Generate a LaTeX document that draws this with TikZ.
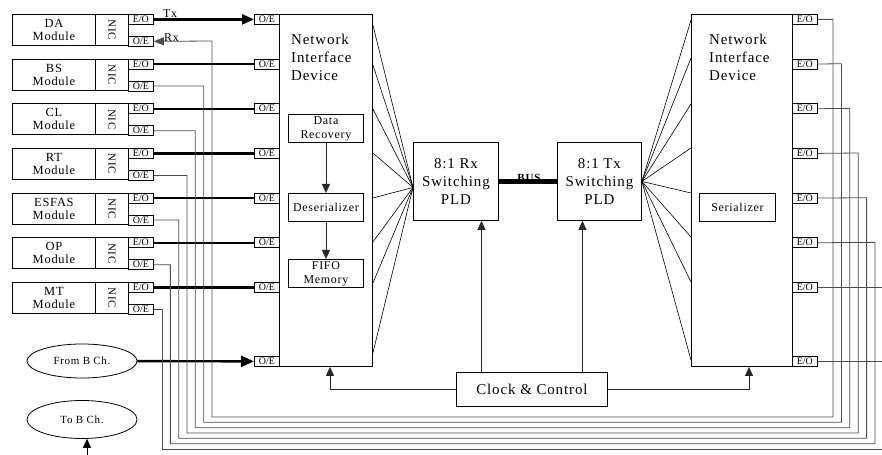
\documentclass[tikz,border=0pt]{standalone}
\usepackage{fontspec}
\setmainfont{Liberation Serif}
\newfontfamily\ls[LetterSpace=6]{Liberation Serif}
\newfontfamily\lsb[LetterSpace=8]{Liberation Serif Bold}
\usetikzlibrary{arrows.meta,shapes.geometric,calc}
\tikzset{
  bx/.style={draw, line width=0.9bp, inner sep=0pt, anchor=north west, align=center},
  sm/.style={bx, line width=0.8bp, minimum width=25bp, minimum height=10bp, font=\fontsize{10}{10}\selectfont},
  modf/.style={font=\ls\fontsize{12.5}{13}\selectfont},
  bigf/.style={font=\ls\fontsize{15}{18}\selectfont},
  midf/.style={font=\ls\fontsize{12}{14}\selectfont},
  wire/.style={line width=0.8bp, black!70},
  fan/.style={line width=0.6bp, black},
  txl/.style={line width=2.4bp, black},
  bigtip/.style={-{Triangle[length=12bp,width=10bp]}},
  arr/.style={line width=0.8bp, black!85, -{Triangle[length=9bp,width=8bp]}},
  ell/.style={draw, ellipse, line width=0.8bp, minimum width=110bp, font=\ls\fontsize{11}{11}\selectfont}
}
\begin{document}
\begin{tikzpicture}[x=1bp,y=-1bp]
\useasboundingbox (0,0) rectangle (882,455);

% Left modules and O/E, E/O boxes
\foreach \i/\nm in {1/DA,2/BS,3/CL,4/RT,5/ESFAS,6/OP,7/MT}{
  \pgfmathsetmacro\T{14+44.67*(\i-1)}
  \node[bx, modf, minimum width=83bp, minimum height=31bp] (mod\i) at (12,\T) {\nm\\Module};
  \node[bx, minimum width=33bp, minimum height=31bp] (nic\i) at (95,\T) {};
  \node[rotate=-90, font=\ls\fontsize{11}{11}\selectfont, inner sep=0pt] (nicl\i) at (nic\i.center) {NIC};
  \node[sm] (eo\i) at (128,\T) {E/O};
  \node[sm] (oe\i) at (128,\T+22) {O/E};
  \node[sm] (noe\i) at (254,\T) {O/E};
  \node[sm] (reo\i) at (792,\T) {E/O};
}
\node[sm] (noe8) at (254,356) {O/E};
\node[sm] (reo8) at (792,356) {E/O};

% Network interface devices
\node[bx, minimum width=93bp, minimum height=352bp] (nidL) at (279,14) {};
\node[bx, minimum width=101bp, minimum height=352bp] (nidR) at (691,14) {};
\node[bigf, anchor=north west, align=left, inner sep=0pt] (nidLt) at (291,34) {Network\\Interface\\Device};
\node[bigf, anchor=north west, align=left, inner sep=0pt] (nidRt) at (709,34) {Network\\Interface\\Device};

\node[bx, midf, minimum width=75bp, minimum height=28bp] (drec) at (288,114) {Data\\Recovery};
\node[bx, midf, minimum width=75bp, minimum height=28bp] (deser) at (288,193) {Deserializer};
\node[bx, midf, minimum width=75bp, minimum height=28bp] (fifo) at (288,259) {FIFO\\Memory};
\node[bx, midf, minimum width=76bp, minimum height=28bp] (ser) at (699,193) {Serializer};
\draw[arr] (drec) -- (deser);
\draw[arr] (deser) -- (fifo);

% Switching PLDs
\node[bx, bigf, minimum width=85bp, minimum height=78bp] (rxpld) at (413,142) {8:1 Rx\\Switching\\PLD};
\node[bx, bigf, minimum width=84bp, minimum height=78bp] (txpld) at (557,142) {8:1 Tx\\Switching\\PLD};
\node[font=\lsb\fontsize{11}{11}\selectfont, anchor=base, inner sep=0pt] (buslbl) at (529,181.5) {BUS};
\draw[line width=4.5bp] (rxpld) -- (txpld);

% Fans
\coordinate (rxin) at ($(rxpld.west)+(0,6)$);
\foreach \o in {11,51,95,139,184,228,269,339}
  \draw[fan] ($(nidL.north east)+(0,\o)$) -- (rxin);
\coordinate (txout) at (txpld.east);
\foreach \o in {6,44,90,134,179,223,268,346}
  \draw[fan] (txout) -- ($(nidR.north west)+(0,\o)$);

% Clock & Control
\node[bx, bigf, minimum width=151bp, minimum height=34bp] (clk) at (456,372) {Clock \& Control};
\coordinate (rxa) at ($(rxpld.south)+(25.5,0)$);
\coordinate (txa) at ($(txpld.south)+(-17,0)$);
\draw[arr] (clk.north -| rxa) -- (rxa);
\draw[arr] (clk.north -| txa) -- (txa);
\draw[arr] (clk.west) -| ($(nidL.south west)+(51,0)$);
\draw[arr] (clk.east) -| ($(nidR.south west)+(58,0)$);

% Tx lines
\draw[txl, bigtip] (eo1) -- (noe1);
\foreach \i in {2,...,7} \draw[txl] (eo\i) -- (noe\i);
\node[font=\ls\fontsize{12}{12}\selectfont, anchor=base west, inner sep=0pt] (txlbl) at (163,17.5) {Tx};
\node[font=\ls\fontsize{12}{12}\selectfont, anchor=base west, inner sep=0pt] (rxlbl) at (164,41.5) {Rx};

% From / To B Ch.
\node[ell, minimum height=34bp] (fromb) at (82,361) {From B Ch.};
\node[ell, minimum height=38bp] (tob) at (82,419.5) {To B Ch.};
\draw[txl, -{Triangle[length=13bp,width=11bp]}] (fromb) -- (noe8);
\coordinate (tobin) at (87,455);
\draw[arr, black] (tobin) -- (tobin |- tob.south);

% Wires O/E (left) to E/O (right)
\draw[wire, -{Triangle[length=10bp,width=8bp]}] (reo1.east) -| (833,417) -| (212,41) -- (oe1.east);
\foreach \i in {2,...,6}{
  \pgfmathsetmacro\xl{212-8.33*(\i-1)}
  \pgfmathsetmacro\yb{417+5.33*(\i-1)}
  \pgfmathsetmacro\xr{833+8.4*(\i-1)}
  \pgfmathsetmacro\ye{14+44.67*(\i-1)+5}
  \draw[wire] (oe\i.east) -| (\xl,\yb) -| (\xr,\ye) -- (reo\i.east);
}
\coordinate (endA) at (882,449);
\coordinate (endB) at (882,288);
\coordinate (endC) at (882,361);
\draw[wire] (oe7.east) -| (162,449) -- (endA);
\draw[wire] (reo7.east) -- (reo7.east -| endB);
\draw[wire] (reo8.east) -- (reo8.east -| endC);
\end{tikzpicture}
\end{document}
